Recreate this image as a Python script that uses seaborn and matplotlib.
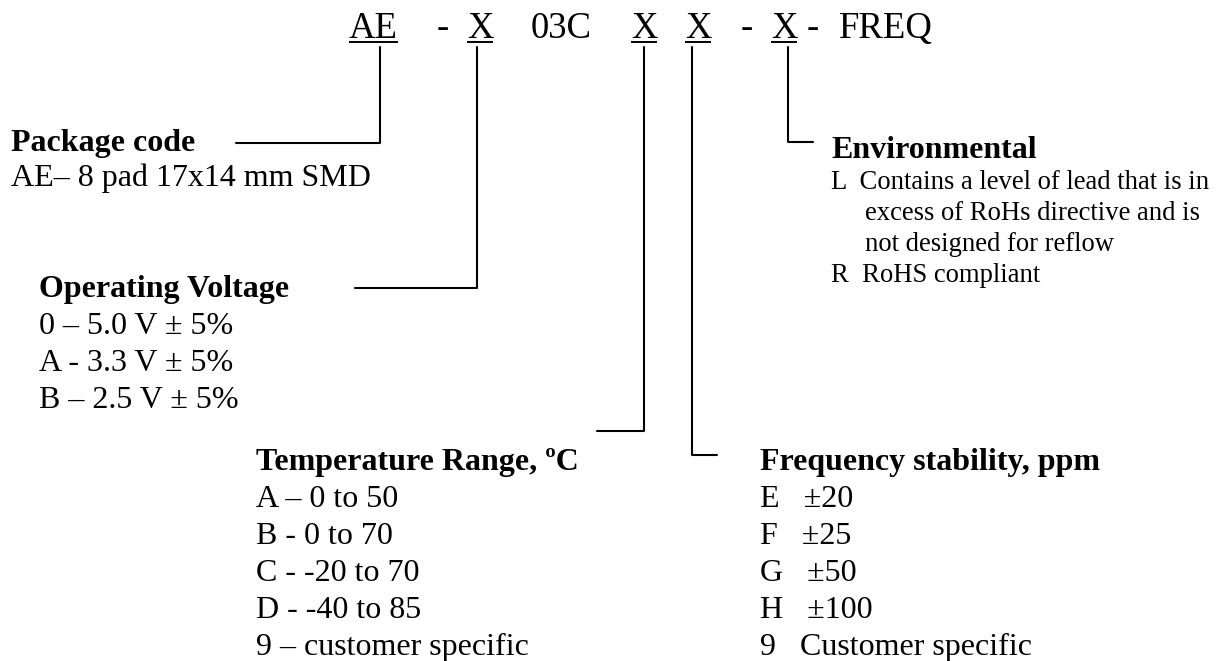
import matplotlib
matplotlib.use("Agg")
import matplotlib.pyplot as plt
import seaborn as sns

# ---------------- data (text content) ----------------
header_tokens = ["AE", "-", "X", "03C", "X", "X", "-", "X", "-", "FREQ"]
header_underlined = [True, False, True, False, True, True, False, True, False, False]

package_title = "Package code"
package_items = ["AE\u2013 8 pad 17x14 mm SMD"]

voltage_title = "Operating Voltage"
voltage_items = ["0 \u2013 5.0 V \u00b1 5%", "A - 3.3 V \u00b1 5%", "B \u2013 2.5 V \u00b1 5%"]

temp_title = "Temperature Range, \u00baC"
temp_items = ["A \u2013 0 to 50", "B - 0 to 70", "C - -20 to 70", "D - -40 to 85",
              "9 \u2013 customer specific"]

freq_title = "Frequency stability, ppm"
freq_items = ["E   \u00b120", "F   \u00b125", "G   \u00b150", "H   \u00b1100", "9   Customer specific"]

env_title = "Environmental"
env_items = ["L  Contains a level of lead that is in", "excess of RoHs directive and is",
             "not designed for reflow", "R  RoHS compliant"]

# ---------------- layout (pixel coordinates) ----------------
W, H = 1224, 661
sns.set_theme(style="white")
plt.rcParams["font.family"] = ["Liberation Serif", "DejaVu Serif"]

fig = plt.figure(figsize=(W / 100, H / 100), dpi=100)
ax = fig.add_axes([0, 0, 1, 1])
ax.set_xlim(0, W)
ax.set_ylim(H, 0)
ax.axis("off")

HEAD_FS, BODY_FS, SMALL_FS = 26.5, 23, 19.2
header_x = [349, 437, 467, 531, 631, 685, 741, 771, 807, 839]
header_base = 38
underline_y = 42

fig.canvas.draw()
renderer = fig.canvas.get_renderer()
inv = ax.transData.inverted()
for tok, x, ul in zip(header_tokens, header_x, header_underlined):
    t = ax.text(x, header_base, tok, fontsize=HEAD_FS, ha="left", va="baseline", color="black")
    if ul:
        bb = t.get_window_extent(renderer)
        (x0, _), (x1, _) = inv.transform([(bb.x0, bb.y0), (bb.x1, bb.y0)])
        ax.plot([x0, x1], [underline_y, underline_y], color="black", lw=1.4,
                solid_capstyle="butt")


def block(x, y0, title, items, dy, fs_items, item_x=None):
    ax.text(x, y0, title, fontsize=BODY_FS, fontweight="bold", ha="left",
            va="baseline", color="black")
    for i, it in enumerate(items):
        xx = x if item_x is None else item_x[i]
        ax.text(xx, y0 + (i + 1) * dy, it, fontsize=fs_items, ha="left",
                va="baseline", color="black")


block(11, 151, package_title, package_items, 35, BODY_FS)
block(39, 297, voltage_title, voltage_items, 37, BODY_FS)
block(256, 470, temp_title, temp_items, 37, BODY_FS)
block(760, 470, freq_title, freq_items, 37, BODY_FS)
block(831, 158, env_title, env_items, 31, SMALL_FS, item_x=[831, 865, 865, 831])

# connectors: (vertical x, bottom y, horizontal end x)
top_y = 47
connectors = [(380, 143, 236), (476.5, 288, 355), (644, 431, 597),
              (692, 455, 717), (788, 142, 813)]
for vx, by, hx in connectors:
    sns.lineplot(x=[vx, vx, hx], y=[top_y, by, by], sort=False, estimator=None,
                 color="black", lw=1.5, ax=ax)

ax.set_xlim(0, W)
ax.set_ylim(H, 0)
ax.axis("off")
fig.savefig("out.png", dpi=100, facecolor="white")
